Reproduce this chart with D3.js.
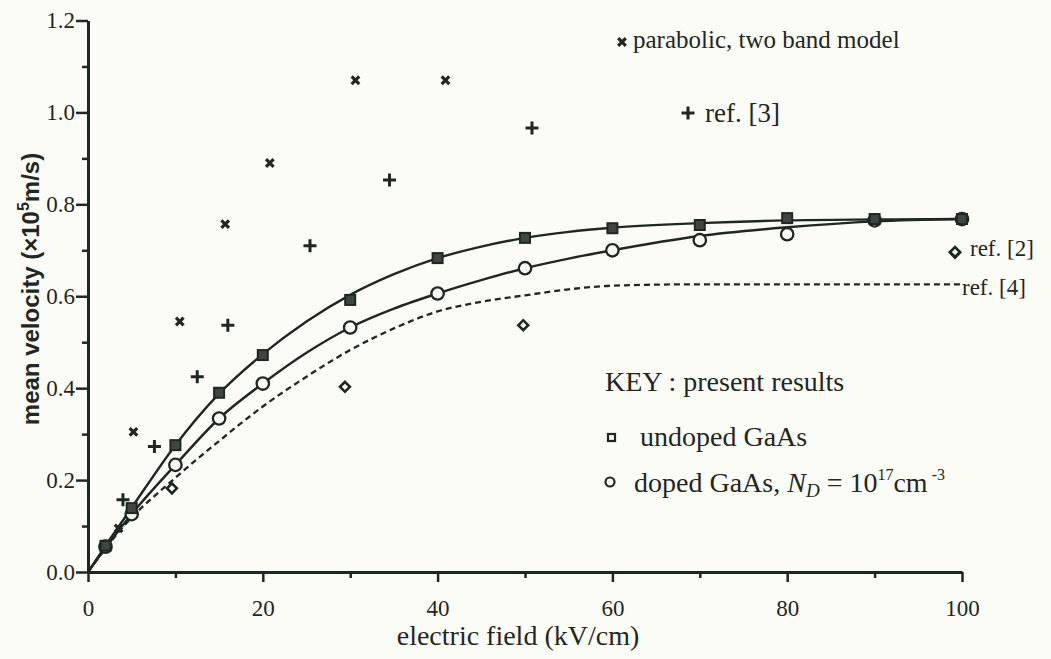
<!DOCTYPE html>
<html><head><meta charset="utf-8">
<script src="https://cdn.jsdelivr.net/npm/d3@7"></script>
<style>
html,body{margin:0;padding:0;background:#fcfcf6;}
svg{display:block;}
</style></head><body>
<svg id="chart" width="1051" height="659"></svg>
<script>
// ---- axis ticks ----
const xTicks = [0, 20, 40, 60, 80, 100];
const xMinorTicks = [10, 30, 50, 70, 90];
const yTicks = [0, 0.2, 0.4, 0.6, 0.8, 1.0, 1.2];
const yMinorTicks = [0.1, 0.3, 0.5, 0.7, 0.9, 1.1];

// ---- present results: undoped GaAs (squares) ----
const undopedX = [2, 5, 10, 15, 20, 30, 40, 50, 60, 70, 80, 90, 100];
const undopedY = [0.057, 0.139, 0.276, 0.390, 0.472, 0.592, 0.683, 0.727, 0.748, 0.755, 0.770, 0.768, 0.768];
// ---- present results: doped GaAs (circles) ----
const dopedX = [2, 5, 10, 15, 20, 30, 40, 50, 60, 70, 80, 90, 100];
const dopedY = [0.055, 0.126, 0.233, 0.334, 0.410, 0.532, 0.606, 0.661, 0.700, 0.722, 0.735, 0.765, 0.768];

// ---- fitted curves ----
const curveX = [0, 2, 5, 10, 15, 20, 25, 30, 35, 40, 45, 50, 55, 60, 70, 80, 90, 100];
const undopedCurveY = [0, 0.057, 0.140, 0.276, 0.388, 0.474, 0.545, 0.603, 0.648, 0.683, 0.708, 0.727, 0.740, 0.749, 0.759, 0.765, 0.767, 0.768];
const dopedCurveY   = [0, 0.052, 0.126, 0.233, 0.334, 0.410, 0.477, 0.532, 0.573, 0.606, 0.635, 0.661, 0.682, 0.700, 0.731, 0.750, 0.763, 0.768];

// ---- ref. [4] dashed curve ----
const ref4X = [0, 4, 10, 15, 20, 25, 30, 35, 40, 45, 50, 55, 60, 70, 80, 90, 100];
const ref4Y = [0, 0.098, 0.205, 0.285, 0.360, 0.425, 0.483, 0.530, 0.567, 0.588, 0.602, 0.615, 0.623, 0.626, 0.626, 0.626, 0.626];

// ---- parabolic, two band model (x marks) ----
const parabolicX = [3.5, 5.2, 10.5, 15.7, 20.8, 30.6, 40.9];
const parabolicY = [0.095, 0.305, 0.545, 0.757, 0.890, 1.070, 1.070];

// ---- ref. [3] (plus marks) ----
const ref3X = [4.0, 7.6, 12.5, 16.0, 25.4, 34.5, 50.8];
const ref3Y = [0.157, 0.273, 0.425, 0.537, 0.710, 0.853, 0.966];

// ---- ref. [2] (diamonds) ----
const ref2X = [9.6, 29.4, 49.8, 99.2];
const ref2Y = [0.182, 0.403, 0.537, 0.695];

const ink = "#1f2723";
const paper = "#fcfcf6";
const serif = "'Liberation Serif', 'Times New Roman', serif";
const sans = "'Liberation Sans', Arial, sans-serif";

const svg = d3.select("#chart");
svg.append("rect").attr("width", 1051).attr("height", 659).attr("fill", paper);

const x = d3.scaleLinear().domain([0, 100]).range([88, 962]);
const y = d3.scaleLinear().domain([0, 1.2]).range([572, 20.5]);

const zip = (xs, ys) => xs.map((v, i) => [v, ys[i]]);

// ---- axes ----
const gx = svg.append("g").attr("transform", `translate(0,${y(0)})`)
  .call(d3.axisBottom(x).tickValues(xTicks).tickSize(10).tickSizeOuter(0).tickPadding(18).tickFormat(d3.format("d")));
const gxm = svg.append("g").attr("transform", `translate(0,${y(0)})`)
  .call(d3.axisBottom(x).tickValues(xMinorTicks).tickSize(6).tickFormat(""));
gxm.select(".domain").remove();

const gy = svg.append("g").attr("transform", `translate(${x(0)},0)`)
  .call(d3.axisLeft(y).tickValues(yTicks).tickSize(12).tickSizeOuter(0).tickPadding(1).tickFormat(d3.format(".1f")));
const gym = svg.append("g").attr("transform", `translate(${x(0)},0)`)
  .call(d3.axisLeft(y).tickValues(yMinorTicks).tickSize(6).tickFormat(""));
gym.select(".domain").remove();

[gx, gxm, gy, gym].forEach(g => {
  g.selectAll("path,line").attr("stroke", ink).attr("stroke-width", 2.5);
  g.selectAll("text").attr("fill", ink).attr("font-family", serif).attr("font-size", 23);
});
gy.select(".domain").attr("stroke-width", 3);
gx.select(".domain").attr("stroke-width", 3);

// axis titles
svg.append("text").attr("x", 518).attr("y", 645).attr("text-anchor", "middle")
  .attr("font-family", serif).attr("font-size", 28).attr("fill", ink)
  .text("electric field (kV/cm)");

const yl = svg.append("text").attr("transform", "translate(39,289) rotate(-90)")
  .attr("text-anchor", "middle").attr("font-family", sans).attr("font-size", 24)
  .attr("font-weight", "bold").attr("fill", ink);
yl.append("tspan").text("mean velocity (×10");
yl.append("tspan").attr("font-size", 16).attr("dy", -10).text("5");
yl.append("tspan").attr("dy", 10).text("m/s)");

// ---- curves ----
const line = d3.line().x(d => x(d[0])).y(d => y(d[1])).curve(d3.curveMonotoneX);
svg.append("path").datum(zip(ref4X, ref4Y)).attr("d", line)
  .attr("fill", "none").attr("stroke", ink).attr("stroke-width", 2.3).attr("stroke-dasharray", "6,4");
svg.append("path").datum(zip(curveX, dopedCurveY)).attr("d", line)
  .attr("fill", "none").attr("stroke", ink).attr("stroke-width", 2.4);
svg.append("path").datum(zip(curveX, undopedCurveY)).attr("d", line)
  .attr("fill", "none").attr("stroke", ink).attr("stroke-width", 2.4);

// ---- markers ----
const xPath = s => `M${-s},${-s}L${s},${s}M${-s},${s}L${s},${-s}`;
const plusPath = s => `M${-s},0L${s},0M0,${-s}L0,${s}`;

svg.append("g").selectAll("path").data(zip(parabolicX, parabolicY)).join("path")
  .attr("transform", d => `translate(${x(d[0])},${y(d[1])})`)
  .attr("d", xPath(3.8)).attr("stroke", ink).attr("stroke-width", 3.2).attr("fill", "none");

svg.append("g").selectAll("path").data(zip(ref3X, ref3Y)).join("path")
  .attr("transform", d => `translate(${x(d[0])},${y(d[1])})`)
  .attr("d", plusPath(6.5)).attr("stroke", ink).attr("stroke-width", 3).attr("fill", "none");

svg.append("g").selectAll("rect").data(zip(ref2X, ref2Y)).join("rect")
  .attr("x", -3.5).attr("y", -3.5).attr("width", 7).attr("height", 7)
  .attr("transform", d => `translate(${x(d[0])},${y(d[1])}) rotate(45)`)
  .attr("stroke", ink).attr("stroke-width", 2.6).attr("fill", paper);

svg.append("g").selectAll("circle").data(zip(dopedX, dopedY)).join("circle")
  .attr("cx", d => x(d[0])).attr("cy", d => y(d[1])).attr("r", 6.2)
  .attr("stroke", ink).attr("stroke-width", 2.3).attr("fill", paper);

svg.append("g").selectAll("rect").data(zip(undopedX, undopedY)).join("rect")
  .attr("x", d => x(d[0]) - 5).attr("y", d => y(d[1]) - 5).attr("width", 10).attr("height", 10)
  .attr("stroke", ink).attr("stroke-width", 2).attr("fill", "#3f4642");

// ---- legends / annotations ----
function label(xp, yp, txt, size) {
  return svg.append("text").attr("x", xp).attr("y", yp).attr("font-family", serif)
    .attr("font-size", size || 25).attr("fill", ink).text(txt);
}
svg.append("path").attr("transform", "translate(622,42)").attr("d", xPath(3.8))
  .attr("stroke", ink).attr("stroke-width", 3.2);
label(633, 48, "parabolic, two band model", 25);

svg.append("path").attr("transform", "translate(688,113)").attr("d", plusPath(6.5))
  .attr("stroke", ink).attr("stroke-width", 3);
label(705, 122, "ref. [3]", 27);

svg.append("rect").attr("x", -3.5).attr("y", -3.5).attr("width", 7).attr("height", 7)
  .attr("transform", "translate(955,252) rotate(45)")
  .attr("stroke", ink).attr("stroke-width", 2.6).attr("fill", paper);
label(970, 256, "ref. [2]", 23);
label(962, 295, "ref. [4]", 23);

label(605, 391, "KEY : present results", 28);
svg.append("rect").attr("x", 608).attr("y", 434).attr("width", 7).attr("height", 7)
  .attr("stroke", ink).attr("stroke-width", 2.2).attr("fill", paper);
label(640, 446, "undoped GaAs", 28);
svg.append("circle").attr("cx", 610).attr("cy", 482).attr("r", 4.5)
  .attr("stroke", ink).attr("stroke-width", 2.2).attr("fill", paper);
const dl = label(634, 492, "", 28);
dl.append("tspan").text("doped GaAs, ");
dl.append("tspan").attr("font-style", "italic").text("N");
dl.append("tspan").attr("font-style", "italic").attr("font-size", 19).attr("dy", 5).text("D");
dl.append("tspan").attr("dy", -5).text(" = 10");
dl.append("tspan").attr("font-size", 16).attr("dy", -12).text("17");
dl.append("tspan").attr("dy", 12).text("cm");
dl.append("tspan").attr("font-size", 16).attr("dy", -12).text(" -3");
</script>
</body></html>
